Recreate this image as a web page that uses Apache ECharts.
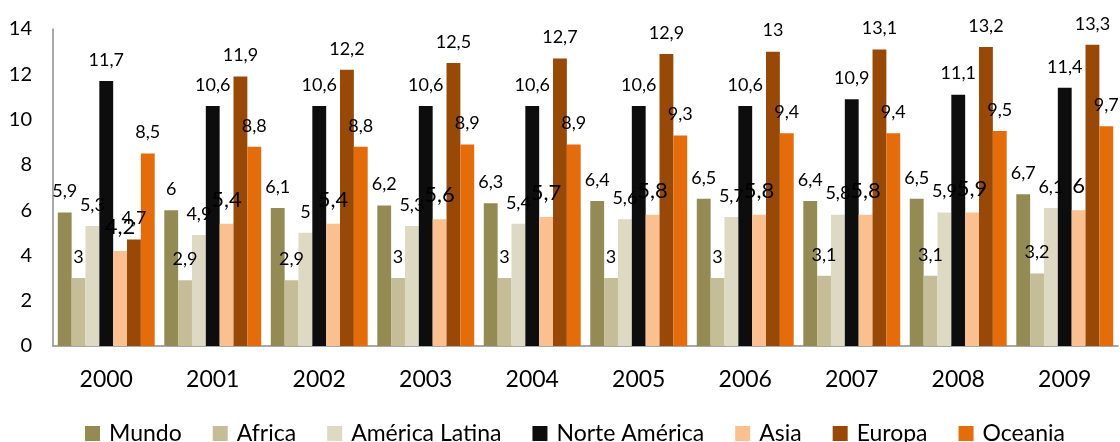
<!DOCTYPE html>
<html>
<head>
<meta charset="utf-8">
<script src="https://cdn.jsdelivr.net/npm/echarts@6/dist/echarts.min.js"></script>
<style>
  html, body { margin: 0; padding: 0; background: #fff; }
  #chart { width: 1120px; height: 442px; }
</style>
</head>
<body>
<div id="chart"></div>
<script>
// Years on the category axis
const years = ['2000', '2001', '2002', '2003', '2004', '2005', '2006', '2007', '2008', '2009'];

// One value per year for each region
const mundo = [5.9, 6, 6.1, 6.2, 6.3, 6.4, 6.5, 6.4, 6.5, 6.7];
const africa = [3, 2.9, 2.9, 3, 3, 3, 3, 3.1, 3.1, 3.2];
const americaLatina = [5.3, 4.9, 5, 5.3, 5.4, 5.6, 5.7, 5.8, 5.9, 6.1];
const norteAmerica = [11.7, 10.6, 10.6, 10.6, 10.6, 10.6, 10.6, 10.9, 11.1, 11.4];
const asia = [4.2, 5.4, 5.4, 5.6, 5.7, 5.8, 5.8, 5.8, 5.9, 6];
const europa = [4.7, 11.9, 12.2, 12.5, 12.7, 12.9, 13, 13.1, 13.2, 13.3];
const oceania = [8.5, 8.8, 8.8, 8.9, 8.9, 9.3, 9.4, 9.4, 9.5, 9.7];

const FONT = 'Lato, "Open Sans", sans-serif';

const seriesDefs = [
  { name: 'Mundo', data: mundo, color: '#948A54' },
  { name: 'Africa', data: africa, color: '#C4BD97' },
  { name: 'América Latina', data: americaLatina, color: '#DDD9C3' },
  { name: 'Norte América', data: norteAmerica, color: '#0D0D0D' },
  { name: 'Asia', data: asia, color: '#FAC090', labelSize: 22, labelDist: 13 },
  { name: 'Europa', data: europa, color: '#984807' },
  { name: 'Oceania', data: oceania, color: '#E46C0A' }
];

const chart = echarts.init(document.getElementById('chart'), null, { renderer: 'canvas' });

chart.setOption({
  animation: false,
  textStyle: { fontFamily: FONT },
  grid: { left: 53, right: 2, top: 29, bottom: 96, containLabel: false },
  legend: {
    top: 417,
    left: 80,
    icon: 'rect',
    itemWidth: 15,
    itemHeight: 15,
    itemGap: 31,
    textStyle: { fontFamily: FONT, fontSize: 23, color: '#000', padding: [0, 0, 0, 4] },
    data: seriesDefs.map(s => s.name)
  },
  xAxis: {
    type: 'category',
    data: years,
    axisLine: { lineStyle: { color: '#8c8c8c', width: 1.5 } },
    axisTick: { show: false },
    axisLabel: { fontFamily: FONT, fontSize: 23, color: '#000', margin: 22 }
  },
  yAxis: {
    type: 'value',
    min: 0,
    max: 14,
    interval: 2,
    axisLine: { show: true, lineStyle: { color: '#8c8c8c', width: 1.5 } },
    axisTick: { show: false },
    splitLine: { show: false },
    axisLabel: { fontFamily: FONT, fontSize: 20, color: '#000', margin: 21 }
  },
  series: seriesDefs.map(s => ({
    name: s.name,
    type: 'bar',
    data: s.data,
    barGap: '0%',
    barCategoryGap: '9%',
    itemStyle: { color: s.color },
    label: {
      show: true,
      position: 'top',
      distance: s.labelDist || 12,
      fontFamily: FONT,
      fontSize: s.labelSize || 18,
      color: '#000',
      formatter: p => String(p.value).replace('.', ',')
    }
  }))
});
</script>
</body>
</html>
